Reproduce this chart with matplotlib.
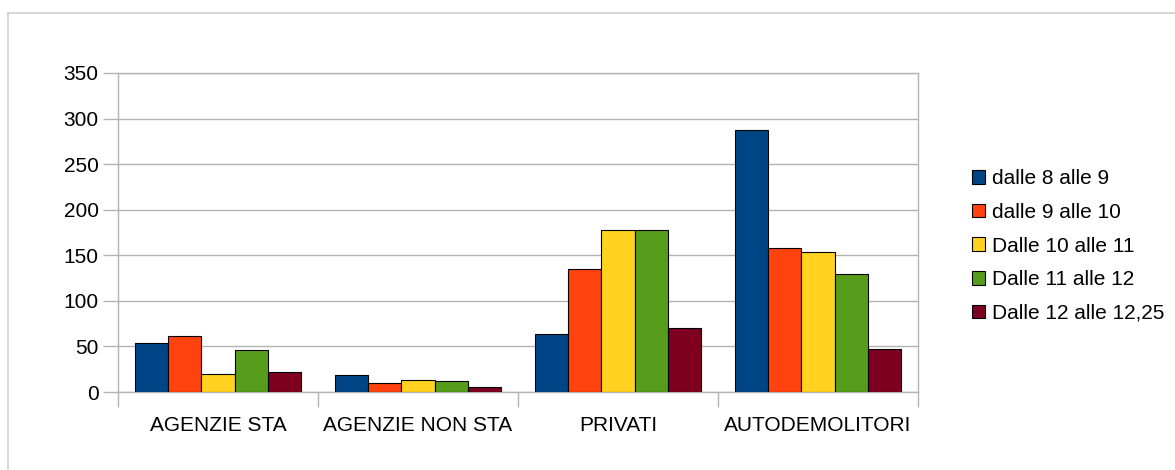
import matplotlib
matplotlib.use('Agg')
import matplotlib.pyplot as plt
from matplotlib.lines import Line2D
import numpy as np

categories = ['AGENZIE STA', 'AGENZIE NON STA', 'PRIVATI', 'AUTODEMOLITORI']
series_names = ['dalle 8 alle 9', 'dalle 9 alle 10', 'Dalle 10 alle 11',
                'Dalle 11 alle 12', 'Dalle 12 alle 12,25']
dalle_8_9 = [54, 19, 64, 287]
dalle_9_10 = [61, 10, 135, 158]
dalle_10_11 = [20, 13, 178, 154]
dalle_11_12 = [46, 12, 178, 130]
dalle_12_1225 = [22, 5, 70, 47]
colors = ['#004586', '#ff420e', '#ffd320', '#579d1c', '#7e0021']

plt.rcParams['font.family'] = ['Liberation Sans', 'DejaVu Sans']
plt.rcParams['font.size'] = 15

W, H = 1175, 470
fig = plt.figure(figsize=(W / 100, H / 100), dpi=100)
ax = fig.add_axes([118 / W, (H - 392) / H, 800 / W, 319 / H])

series = [dalle_8_9, dalle_9_10, dalle_10_11, dalle_11_12, dalle_12_1225]
x = np.arange(len(categories))
bw = 1 / 6
for i, (vals, name, c) in enumerate(zip(series, series_names, colors)):
    ax.bar(x + (i - 2) * bw, vals, width=bw, color=c, edgecolor='black',
           linewidth=0.8, label=name, zorder=3)

grid_c = '#b3b3b3'
ax.set_xlim(-0.5, len(categories) - 0.5)
ax.set_ylim(0, 350)
ax.set_yticks(range(0, 351, 50))
ax.yaxis.grid(True, color=grid_c, linewidth=1, zorder=0)
ax.set_xticks(x)
ax.set_xticklabels(categories)
ax.set_xticks(np.arange(-0.5, len(categories), 1), minor=True)
ax.tick_params(axis='x', which='major', length=0, pad=17)
ax.tick_params(axis='x', which='minor', length=11, color=grid_c, width=1)
ax.tick_params(axis='y', length=11, color=grid_c, width=1, pad=3)
for s in ax.spines.values():
    s.set_color(grid_c)
    s.set_linewidth(1)

fig.legend(loc='center left', bbox_to_anchor=(972 / W, 1 - 246 / H),
           frameon=False, borderpad=0, borderaxespad=0,
           handlelength=0.62, handleheight=0.62, handletextpad=0.35,
           labelspacing=0.7)

# outer frame of the chart object
fig.add_artist(Line2D([7.5 / W, 1], [1 - 12.5 / H, 1 - 12.5 / H],
                      transform=fig.transFigure, color='#d0d0d0', linewidth=1.2))
fig.add_artist(Line2D([7.5 / W, 7.5 / W], [0, 1 - 12.5 / H],
                      transform=fig.transFigure, color='#d0d0d0', linewidth=1.2))

fig.savefig('out.png', dpi=100, facecolor='white')
